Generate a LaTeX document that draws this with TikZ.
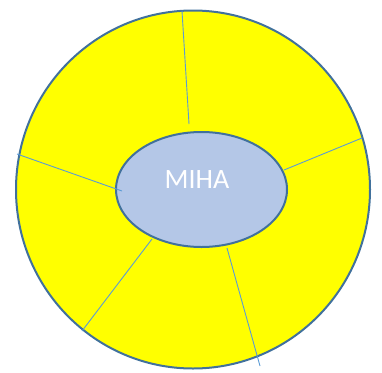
\documentclass[tikz,border=0pt]{standalone}
\usepackage{fontspec}
\setsansfont{Carlito}
\usetikzlibrary{shapes.geometric}
\definecolor{RimYellow}{RGB}{255,255,0}
\definecolor{HubBlue}{RGB}{180,199,231}
\definecolor{EdgeBlue}{RGB}{65,113,156}
\definecolor{SpokeBlue}{RGB}{91,155,213}

\begin{document}
\begin{tikzpicture}[
  x=1pt, y=-1pt,
  rim/.style={ellipse, draw=EdgeBlue, line width=2pt, fill=RimYellow,
              minimum width=354pt, minimum height=358pt, inner sep=0pt},
  hub/.style={ellipse, draw=EdgeBlue, line width=2pt, fill=HubBlue,
              minimum width=171pt, minimum height=115pt, inner sep=0pt},
  spoke/.style={SpokeBlue, line width=0.9pt},
  title/.style={text=white, font=\sffamily\fontsize{28}{32}\selectfont}
]
\useasboundingbox (0,0) rectangle (382,372);

\node[rim] (wheel) at (193,189.5) {};
\node[hub] (centre) at (201.5,189.5) {};
\node[title] (name) at (197,180) {MIHA};

% spoke ends
\coordinate (top out)   at (182,11);
\coordinate (top in)    at (189,124);
\coordinate (right out) at (362,138);
\coordinate (right in)  at (284,170);
\coordinate (left out)  at (17,154);
\coordinate (left in)   at (122,191);
\coordinate (low out)   at (82,331);
\coordinate (low in)    at (152,239);
\coordinate (down out)  at (260,366);
\coordinate (down in)   at (227,248);

\draw[spoke] (top out) -- (top in);
\draw[spoke] (right out) -- (right in);
\draw[spoke] (left out) -- (left in);
\draw[spoke] (low out) -- (low in);
\draw[spoke] (down in) -- (down out);

\end{tikzpicture}
\end{document}
